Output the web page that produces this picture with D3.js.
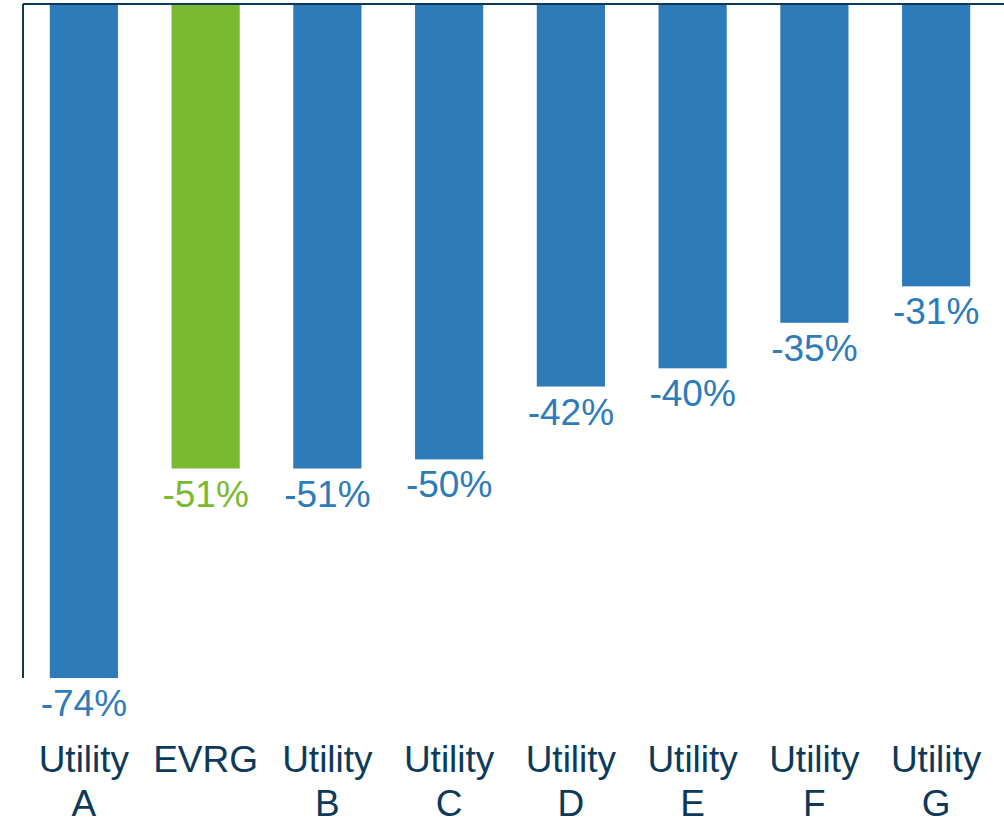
<!DOCTYPE html>
<html>
<head>
<meta charset="utf-8">
<script src="https://cdn.jsdelivr.net/npm/d3@7"></script>
<style>
  body { margin: 0; background: #fff; }
  text { font-family: "Liberation Sans", Arial, sans-serif; }
</style>
</head>
<body>
<svg></svg>
<script>
// Chart data
const categories = ['Utility A', 'EVRG', 'Utility B', 'Utility C', 'Utility D', 'Utility E', 'Utility F', 'Utility G'];
const labelLines = [['Utility', 'A'], ['EVRG'], ['Utility', 'B'], ['Utility', 'C'], ['Utility', 'D'], ['Utility', 'E'], ['Utility', 'F'], ['Utility', 'G']];
const values = [-74, -51, -51, -50, -42, -40, -35, -31];
const highlight = 'EVRG';

// Set Size
const width = 1004;
const height = 821;
const blue = '#2e7bba';
const green = '#7aba30';
const navy = '#0d3a5a';

const svg = d3.select('svg')
  .attr('width', width)
  .attr('height', height);

// Scales
const x = d3.scaleBand()
  .domain(categories)
  .range([23, 997])
  .paddingInner(0.44)
  .paddingOuter(0.22);

const y = d3.scaleLinear()
  .domain([0, d3.min(values)])
  .range([4, 678]);

// Bars
svg.selectAll('rect.bar')
  .data(values)
  .enter()
  .append('rect')
  .attr('class', 'bar')
  .attr('x', (d, i) => x(categories[i]))
  .attr('y', y(0))
  .attr('width', x.bandwidth())
  .attr('height', d => y(d) - y(0))
  .style('fill', (d, i) => categories[i] === highlight ? green : blue);

// Value labels
svg.selectAll('text.value')
  .data(values)
  .enter()
  .append('text')
  .attr('class', 'value')
  .attr('x', (d, i) => x(categories[i]) + x.bandwidth() / 2)
  .attr('y', d => y(d) + 38)
  .attr('text-anchor', 'middle')
  .style('font-size', '37px')
  .style('fill', (d, i) => categories[i] === highlight ? green : blue)
  .text(d => d + '%');

// Axis lines
svg.append('line')
  .attr('x1', 23).attr('x2', width)
  .attr('y1', y(0)).attr('y2', y(0))
  .style('stroke', navy)
  .style('stroke-width', 2);

svg.append('line')
  .attr('x1', 23).attr('x2', 23)
  .attr('y1', y(0)).attr('y2', y(d3.min(values)))
  .style('stroke', navy)
  .style('stroke-width', 2);

// Category labels
const cat = svg.selectAll('text.cat')
  .data(labelLines)
  .enter()
  .append('text')
  .attr('class', 'cat')
  .attr('text-anchor', 'middle')
  .style('font-size', '37px')
  .style('fill', navy);

cat.selectAll('tspan')
  .data((d, i) => d.map(s => ({ s, i })))
  .enter()
  .append('tspan')
  .attr('x', d => x(categories[d.i]) + x.bandwidth() / 2)
  .attr('y', (d, j) => 772 + j * 44)
  .text(d => d.s);
</script>
</body>
</html>
